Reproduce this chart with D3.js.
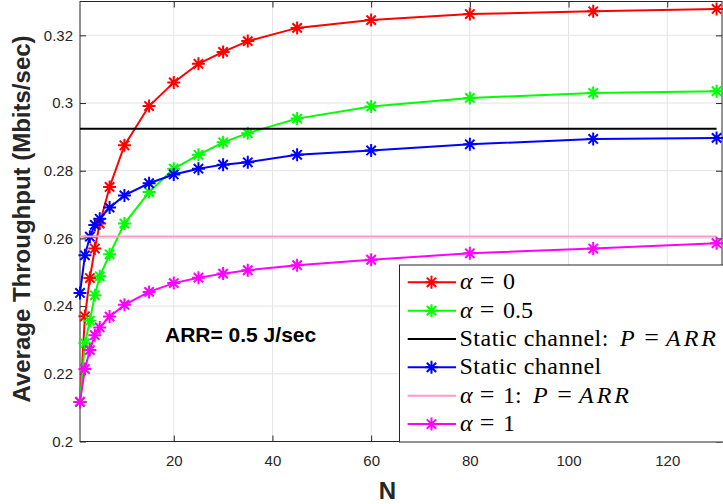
<!DOCTYPE html>
<html><head><meta charset="utf-8">
<script src="https://cdn.jsdelivr.net/npm/d3@7"></script>
<style>body{margin:0;background:#fff;} svg{display:block;}</style>
</head><body><svg id="c" width="723" height="504"></svg>
<script>
// ---- data ----
const N = [1,2,3,4,5,7,10,15,20,25,30,35,45,60,80,105,130];
const alpha0   = [0.2117,0.2370,0.2483,0.2570,0.2644,0.2752,0.2875,0.2991,0.3061,0.3116,0.3151,0.3183,0.3222,0.3245,0.3263,0.3271,0.3278];
const alpha05  = [0.2117,0.2290,0.2357,0.2432,0.2488,0.2553,0.2644,0.2737,0.2806,0.2847,0.2884,0.2911,0.2954,0.2990,0.3015,0.3030,0.3035];
const staticCh = [0.2439,0.2550,0.2605,0.2640,0.2658,0.2691,0.2727,0.2763,0.2789,0.2806,0.2818,0.2825,0.2847,0.2860,0.2878,0.2894,0.2897];
const alpha1   = [0.2117,0.2214,0.2270,0.2314,0.2337,0.2369,0.2404,0.2442,0.2468,0.2484,0.2496,0.2506,0.2521,0.2537,0.2556,0.2570,0.2586];
const staticP  = 0.2924;   // Static channel: P = ARR
const alpha1P  = 0.2606;   // alpha = 1: P = ARR
const xTicks = [20,40,60,80,100,120];
const xTickLabels = ["20","40","60","80","100","120"];
const yTicks = [0.2,0.22,0.24,0.26,0.28,0.3,0.32];
const yTickLabels = ["0.2","0.22","0.24","0.26","0.28","0.3","0.32"];
const legendLabels = [
  [["α",true],["=",false],["0",false]],
  [["α",true],["=",false],["0.5",false]],
  [["Static channel:",false],["P",true],["=",false],["ARR",true]],
  [["Static channel",false]],
  [["α",true],["=",false],["1:",false],["P",true],["=",false],["ARR",true]],
  [["α",true],["=",false],["1",false]]
];
const legendColors = ["#ff0000","#00ff00","#000000","#0000ff","#ff99cc","#ff00ff"];
const legendMarkers = [true,true,false,true,false,true];

// ---- layout ----
// x of each text fragment in legend rows (typesetting positions; "=" is centred)
const legendPartX = [
  [460,487,503],
  [460,487,503],
  [459.5,620,651.5,666],
  [459.5],
  [460,487,503,533,564.5,579],
  [460,487,503]
];

const svg = d3.select("#c");
const L = 80, R = 722, T = 1.5, B = 441.5;
const x = d3.scaleLinear().domain([1,131.1]).range([L,R]);
const y = d3.scaleLinear().domain([0.2,0.33]).range([B,T]);
const axisCol = "#262626";
const sans = "'Liberation Sans', Arial, sans-serif";
const serif = "'Liberation Serif', 'Times New Roman', serif";

svg.append("rect").attr("width",723).attr("height",504).attr("fill","#fff");

// grid
const grid = svg.append("g").attr("stroke","#e3e3e3").attr("stroke-width",1);
grid.selectAll(".gx").data(xTicks).join("line")
  .attr("x1",d=>x(d)).attr("x2",d=>x(d)).attr("y1",T).attr("y2",B);
grid.selectAll(".gy").data(yTicks).join("line")
  .attr("x1",L).attr("x2",R).attr("y1",d=>y(d)).attr("y2",d=>y(d));

// axes
function styleAxis(g){
  g.select(".domain").remove();
  g.selectAll(".tick line").attr("stroke",axisCol);
  g.selectAll(".tick text").attr("fill",axisCol).attr("font-family",sans).attr("font-size",15);
}
svg.append("g").attr("transform",`translate(0,${B})`)
  .call(d3.axisBottom(x).tickValues(xTicks).tickSize(-6).tickPadding(14).tickFormat((d,i)=>xTickLabels[i]))
  .call(styleAxis);
svg.append("g").attr("transform",`translate(0,${T})`)
  .call(d3.axisTop(x).tickValues(xTicks).tickSize(-6).tickFormat(""))
  .call(styleAxis);
svg.append("g").attr("transform",`translate(${L},0)`)
  .call(d3.axisLeft(y).tickValues(yTicks).tickSize(-6).tickPadding(7).tickFormat((d,i)=>yTickLabels[i]))
  .call(styleAxis);
svg.append("g").attr("transform",`translate(${R},0)`)
  .call(d3.axisRight(y).tickValues(yTicks).tickSize(-6).tickFormat(""))
  .call(styleAxis);
svg.append("rect").attr("x",L).attr("y",T).attr("width",R-L).attr("height",B-T)
  .attr("fill","none").attr("stroke",axisCol).attr("stroke-width",1);

// series
const s = 6.5, a = s*0.72;
const star = `M${-s},0L${s},0M0,${-s}L0,${s}M${-a},${-a}L${a},${a}M${-a},${a}L${a},${-a}`;
const line = d3.line().x(d=>x(d[0])).y(d=>y(d[1]));
const plot = svg.append("g");
function series(vals,color,markers){
  const pts = N.map((n,i)=>[n,vals[i]]);
  plot.append("path").attr("d",line(pts)).attr("fill","none").attr("stroke",color).attr("stroke-width",2);
  if(markers){
    plot.append("g").selectAll("path").data(pts).join("path")
      .attr("d",star).attr("transform",d=>`translate(${x(d[0])},${y(d[1])})`)
      .attr("fill","none").attr("stroke",color).attr("stroke-width",2);
  }
}
function hline(v,color){
  plot.append("line").attr("x1",x(N[0])).attr("x2",x(N[N.length-1])).attr("y1",y(v)).attr("y2",y(v))
    .attr("stroke",color).attr("stroke-width",2);
}
series(alpha0,"#ff0000",true);
series(alpha05,"#00ff00",true);
hline(staticP,"#000000");
series(staticCh,"#0000ff",true);
hline(alpha1P,"#ff99cc");
series(alpha1,"#ff00ff",true);

// annotation
svg.append("text").attr("x",165).attr("y",342).attr("font-family",sans).attr("font-weight","bold")
  .attr("font-size",21).attr("fill","#000").text("ARR= 0.5 J/sec");

// axis labels
svg.append("text").attr("x",387.5).attr("y",499).attr("text-anchor","middle").attr("font-family",sans)
  .attr("font-weight","bold").attr("font-size",24).attr("fill",axisCol).text("N");
svg.append("text").attr("transform","translate(30,219) rotate(-90)").attr("text-anchor","middle")
  .attr("font-family",sans).attr("font-weight","bold").attr("font-size",24).attr("fill",axisCol)
  .text("Average Throughput (Mbits/sec)");

// legend
const lg = svg.append("g");
lg.append("rect").attr("x",399.5).attr("y",265).attr("width",340).attr("height",177)
  .attr("fill","#fff").attr("stroke",axisCol).attr("stroke-width",1);
legendLabels.forEach((parts,i)=>{
  const ry = 282.3 + i*28.35;
  const col = legendColors[i];
  lg.append("line").attr("x1",407.7).attr("x2",456).attr("y1",ry).attr("y2",ry)
    .attr("stroke",col).attr("stroke-width",2);
  if(legendMarkers[i]) lg.append("path").attr("d",star).attr("transform",`translate(431.5,${ry})`)
    .attr("fill","none").attr("stroke",col).attr("stroke-width",2);
  parts.forEach((p,j)=>{
    const isEq = p[0]==="=";
    const t = lg.append("text").attr("x",legendPartX[i][j]).attr("y",ry+7)
      .attr("font-family",serif).attr("font-size",isEq?26:24).attr("fill","#000")
      .attr("font-style",p[1]?"italic":"normal").attr("text-anchor",isEq?"middle":"start")
      .text(p[0]);
    if(p[0].startsWith("Static")) t.attr("letter-spacing",0.5);
    if(p[0]==="ARR") t.attr("letter-spacing",3);
  });
});
</script></body></html>
